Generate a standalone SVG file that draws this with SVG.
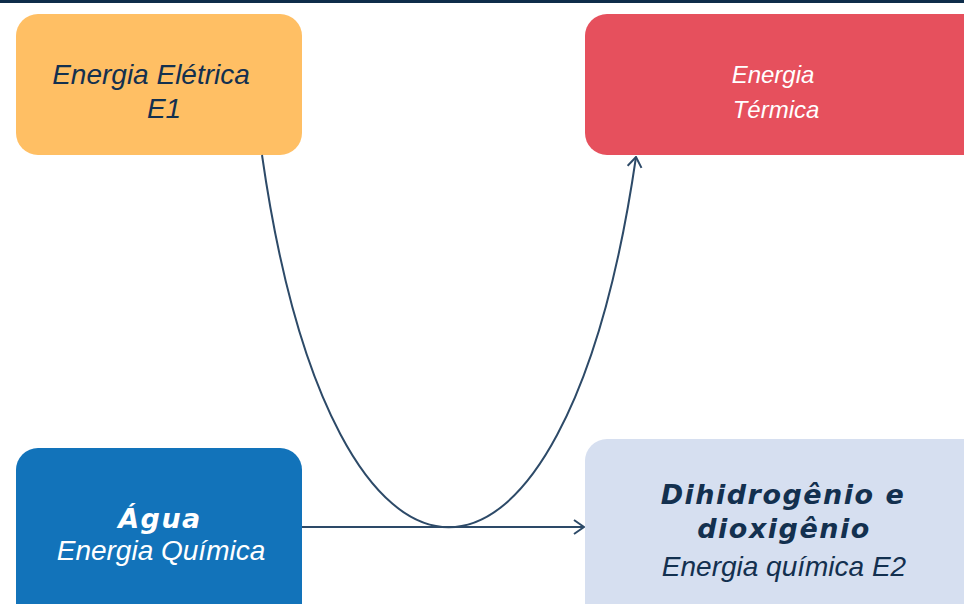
<svg xmlns="http://www.w3.org/2000/svg" width="964" height="604" viewBox="0 0 964 604">
<defs>
<style>
.t{font-family:"Liberation Sans",Arial,sans-serif;font-style:italic;font-size:28px;text-anchor:middle}
.s{font-size:24px}
.b{font-family:"DejaVu Sans",Verdana,sans-serif;font-style:italic;font-weight:bold;font-size:27px;text-anchor:middle;letter-spacing:1.5px}
.c{fill:none;stroke:#2d4a68;stroke-width:2}
</style>
<marker id="ah" viewBox="0 0 12 16" refX="11" refY="8" markerWidth="12" markerHeight="16" markerUnits="userSpaceOnUse" orient="auto">
<path d="M1,1 L11,8 L1,15" fill="none" stroke="#2d4a68" stroke-width="2"/>
</marker>
</defs>
<rect x="0" y="0" width="964" height="604" fill="#ffffff"/>
<rect x="0" y="0" width="964" height="3" fill="#0e2d4a"/>
<g id="eletrica">
<rect x="16" y="14" width="286" height="141" rx="22" fill="#FFBF64"/>
<text class="t" x="151" y="84" fill="#13304f">Energia Elétrica</text>
<text class="t" x="164" y="118" fill="#13304f">E1</text>
</g>
<g id="termica">
<rect x="585" y="14" width="400" height="141" rx="22" fill="#E6505D"/>
<text class="t s" x="773" y="83" fill="#ffffff">Energia</text>
<text class="t s" x="776" y="118" fill="#ffffff">Térmica</text>
</g>
<g id="agua">
<rect x="16" y="448" width="286" height="180" rx="22" fill="#1273BA"/>
<text class="b" x="160" y="528" fill="#ffffff">Água</text>
<text class="t" x="161" y="560" fill="#ffffff">Energia Química</text>
</g>
<g id="dihidrogenio">
<rect x="585" y="439" width="400" height="190" rx="22" fill="#D6DFF0"/>
<text class="b" x="783" y="504" fill="#13304f">Dihidrogênio e</text>
<text class="b" x="784" y="538" fill="#13304f">dioxigênio</text>
<text class="t" x="784" y="576" fill="#13304f">Energia química E2</text>
</g>
<g id="connectors">
<path class="c" d="M262,155 C333,651 564,651 636,157" marker-end="url(#ah)"/>
<path class="c" d="M302,527 L584,527" marker-end="url(#ah)"/>
</g>
</svg>
